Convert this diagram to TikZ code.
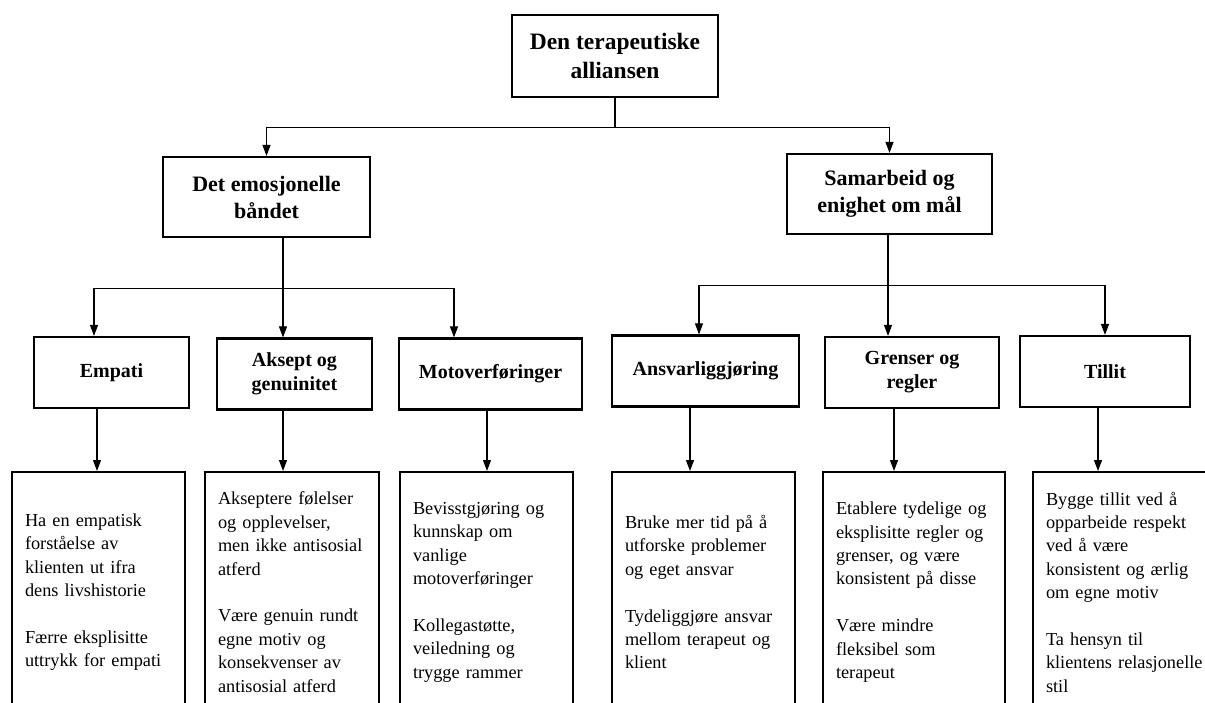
\documentclass[tikz,border=0pt]{standalone}
\usepackage{fontspec}
\setmainfont{Liberation Serif}
\usetikzlibrary{arrows.meta}
\begin{document}
\begin{tikzpicture}[x=1pt,y=-1pt,
 box/.style={draw,line width=2.2pt,inner sep=0pt,align=center},
 topbox/.style={box,font=\fontsize{23.5}{29}\selectfont\bfseries},
 midbox/.style={box,font=\fontsize{22}{27}\selectfont\bfseries},
 subbox/.style={box,font=\fontsize{20}{24}\selectfont\bfseries,minimum height=71},
 leaf/.style={draw,line width=2.2pt,inner xsep=13pt,inner ysep=0pt,align=left,anchor=north,minimum height=240,font=\fontsize{18.3}{23.4}\selectfont},
 conn/.style={line width=1.1pt},
 arr/.style={conn,-{Triangle[length=11pt,width=8pt]}}]
\useasboundingbox (0,0) rectangle (1205,702);
\clip (0,0) rectangle (1205,702);
\fill[white] (0,0) rectangle (1205,702);

% level 1 and 2
\node[topbox,minimum width=206,minimum height=82] (root) at (615,56) {Den terapeutiske\\alliansen};
\node[midbox,minimum width=207,minimum height=80] (emo) at (266.5,197) {Det emosjonelle\\båndet};
\node[midbox,minimum width=205,minimum height=80] (sam) at (889.5,194) {Samarbeid og\\enighet om mål};

% level 3
\node[subbox,minimum width=155] (emp) at (111.5,372.5) {Empati};
\node[subbox,minimum width=155] (aks) at (294.5,374) {Aksept og\\genuinitet};
\node[subbox,minimum width=183] (mot) at (490.5,374) {Motoverføringer};
\node[subbox,minimum width=187] (ans) at (705.5,371) {Ansvarliggjøring};
\node[subbox,minimum width=174] (gre) at (912,372.5) {Grenser og\\regler};
\node[subbox,minimum width=170] (til) at (1105,371.5) {Tillit};

% level 4
\node[leaf,text width=147] (b1) at (98.5,471) {Ha en empatisk\\forståelse av\\klienten ut ifra\\dens livshistorie\\[23.4pt]Færre eksplisitte\\uttrykk for empati};
\node[leaf,text width=148] (b2) at (292,471) {Akseptere følelser\\og opplevelser,\\men ikke antisosial\\atferd\\[23.4pt]Være genuin rundt\\egne motiv og\\konsekvenser av\\antisosial atferd};
\node[leaf,text width=147] (b3) at (486.5,471) {Bevisstgjøring og\\kunnskap om\\vanlige\\motoverføringer\\[23.4pt]Kollegastøtte,\\veiledning og\\trygge rammer};
\node[leaf,text width=157] (b4) at (703.5,471) {Bruke mer tid på å\\utforske problemer\\og eget ansvar\\[23.4pt]Tydeliggjøre ansvar\\mellom terapeut og\\klient};
\node[leaf,text width=156] (b5) at (914,471) {Etablere tydelige og\\eksplisitte regler og\\grenser, og være\\konsistent på disse\\[23.4pt]Være mindre\\fleksibel som\\terapeut};
\node[leaf,text width=164] (b6) at (1128,471) {Bygge tillit ved å\\opparbeide respekt\\ved å være\\konsistent og ærlig\\om egne motiv\\[23.4pt]Ta hensyn til\\klientens relasjonelle\\stil};

% connectors level 1 -> 2
\draw[conn] (root.south) -- ++(0,29) coordinate (j0);
\draw[arr] (j0) -| (emo.north);
\draw[arr] (j0) -| (sam.north);

% level 2 -> 3
\coordinate (e0) at ([xshift=16.5pt]emo.south);
\draw[conn] (e0) -- ++(0,50) coordinate (j1);
\draw[arr] (j1) -| ([xshift=-17.5pt]emp.north);
\draw[arr] (j1) -| ([xshift=-11.5pt]aks.north);
\draw[arr] (j1) -| ([xshift=-36.5pt]mot.north);

\coordinate (s0) at ([xshift=-1.5pt]sam.south);
\draw[conn] (s0) -- ++(0,50) coordinate (j2);
\draw[arr] (j2) -| ([xshift=-6.5pt]ans.north);
\draw[arr] (j2) -| ([xshift=-24pt]gre.north);
\draw[arr] (j2) -| (til.north);

% level 3 -> 4
\coordinate (o1) at ([xshift=-14.5pt]emp.south);
\coordinate (o2) at ([xshift=-11.5pt]aks.south);
\coordinate (o3) at ([xshift=-3.5pt]mot.south);
\coordinate (o4) at ([xshift=-15.5pt]ans.south);
\coordinate (o5) at ([xshift=-18pt]gre.south);
\coordinate (o6) at ([xshift=-7pt]til.south);
\draw[arr] (o1) -- (o1 |- b1.north);
\draw[arr] (o2) -- (o2 |- b2.north);
\draw[arr] (o3) -- (o3 |- b3.north);
\draw[arr] (o4) -- (o4 |- b4.north);
\draw[arr] (o5) -- (o5 |- b5.north);
\draw[arr] (o6) -- (o6 |- b6.north);
\end{tikzpicture}
\end{document}
